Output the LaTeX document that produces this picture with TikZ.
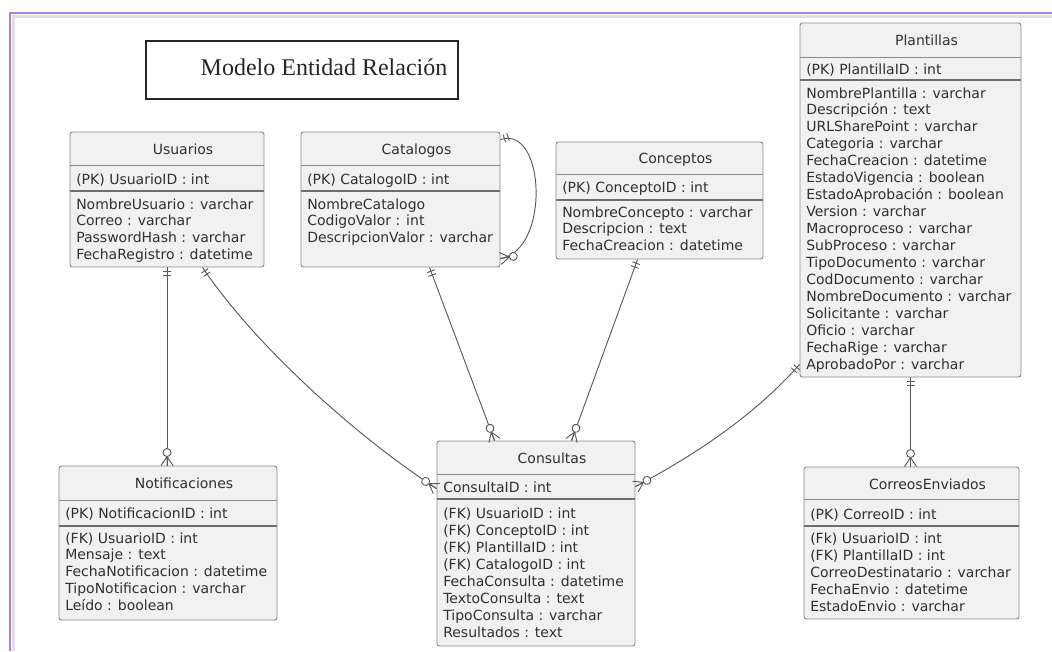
\documentclass[tikz,border=0pt]{standalone}
\usepackage{fontspec}
\setmainfont{DejaVu Sans}
\newfontfamily\titlefont{Liberation Serif}
\usetikzlibrary{calc,fit}
\definecolor{boxfill}{HTML}{F1F1F1}
\definecolor{boxline}{HTML}{8A8A8A}
\definecolor{connline}{HTML}{5A5A5A}
\definecolor{txt}{HTML}{303030}
\definecolor{frameviolet}{RGB}{172,128,222}
\newcommand\tblrows[5]{%
  \foreach \t [count=\i] in {#5}{\node[attr] (#1\i) at (#2,{-(#3+(\i-1)*#4)}) {\t};}}
\tikzset{
  tbl/.style={draw=boxline, line width=0.7pt, fill=boxfill, rounded corners=1.9pt, inner sep=0pt},
  sep/.style={draw=boxline, line width=0.7pt},
  sepd/.style={draw=boxline!80!black, line width=1.3pt},
  attr/.style={anchor=base west, inner sep=0pt, text=txt, font=\fontsize{10.5}{12.6}\selectfont},
  hdr/.style={anchor=base, inner sep=0pt, text=txt, font=\fontsize{10.5}{12.6}\selectfont},
  conn/.style={draw=connline, line width=0.7pt},
  pics/zeromany/.style={code={
    \draw[conn] (9,0) -- (0,6) (9,0) -- (0,-6) (9,0) -- (0,0);
    \draw[conn, fill=white] (13,0) circle[radius=3pt];}},
  pics/exactlyone/.style={code={
    \draw[conn] (4,-4) -- (4,4) (8,-4) -- (8,4);}}
}
\begin{document}
\begin{tikzpicture}[x=0.75pt,y=0.75pt]
\useasboundingbox (0,0) rectangle (1052,-651);
\fill[white] (0,0) rectangle (1052,-651);
% frame
\draw[black!12, line width=1.6pt] (13.5,-651) -- (13.5,-16.5) -- (1052,-16.5);
\draw[frameviolet, line width=1.6pt] (10,-651) -- (10,-13) -- (1052,-13);

% title
\node[draw=black!85, line width=1pt, fit={(146,-41) (458,-99)}, inner sep=0pt] (title) {};
\node[anchor=base, inner sep=0pt, text=black!85, font=\titlefont\fontsize{18}{20}\selectfont] (titletext) at (324,-75) {Modelo Entidad Relación};

% Usuarios
\node[tbl, fit={(70,-132) (264,-267)}] (usu) {};
\draw[sep] (70,-165) -- (264,-165);
\draw[sepd] (70,-191) -- (264,-191);
\node[hdr] (usuh) at (183,-154) {Usuarios};
\node[attr] (usupk) at (76,-184) {(PK) UsuarioID : int};
\tblrows{usua}{76}{209}{16.8}{NombreUsuario : varchar, Correo : varchar, PasswordHash : varchar, FechaRegistro : datetime}

% Catalogos
\node[tbl, fit={(301,-132) (500,-267)}] (cat) {};
\draw[sep] (301,-165) -- (500,-165);
\draw[sepd] (301,-191) -- (500,-191);
\node[hdr] (cath) at (416.5,-154) {Catalogos};
\node[attr] (catpk) at (307,-184) {(PK) CatalogoID : int};
\tblrows{cata}{307}{209}{16.8}{NombreCatalogo, CodigoValor : int, DescripcionValor : varchar}

% Conceptos
\node[tbl, fit={(556,-142) (763,-259)}] (con) {};
\draw[sep] (556,-174) -- (763,-174);
\draw[sepd] (556,-200) -- (763,-200);
\node[hdr] (conh) at (675.5,-163) {Conceptos};
\node[attr] (conpk) at (562,-192) {(PK) ConceptoID : int};
\tblrows{cona}{562}{217}{16.8}{NombreConcepto : varchar, Descripcion : text, FechaCreacion : datetime}

% Plantillas
\node[tbl, fit={(800,-23) (1021,-377)}] (pla) {};
\draw[sep] (800,-57) -- (1021,-57);
\draw[sepd] (800,-80) -- (1021,-80);
\node[hdr] (plah) at (926.5,-45) {Plantillas};
\node[attr] (plapk) at (806,-74) {(PK) PlantillaID : int};
\tblrows{plaa}{806}{98}{16.94}{NombrePlantilla : varchar, Descripción : text, URLSharePoint : varchar, Categoria : varchar, FechaCreacion : datetime, EstadoVigencia : boolean, EstadoAprobación : boolean, Version : varchar, Macroproceso : varchar, SubProceso : varchar, TipoDocumento : varchar, CodDocumento : varchar, NombreDocumento : varchar, Solicitante : varchar, Oficio : varchar, FechaRige : varchar, AprobadoPor : varchar}

% Notificaciones
\node[tbl, fit={(59,-466) (277,-620)}] (noti) {};
\draw[sep] (59,-500) -- (277,-500);
\draw[sepd] (59,-526) -- (277,-526);
\node[hdr] (notih) at (184,-488) {Notificaciones};
\node[attr] (notipk) at (65,-518) {(PK) NotificacionID : int};
\tblrows{notia}{65}{543}{16.8}{(FK) UsuarioID : int, Mensaje : text, FechaNotificacion : datetime, TipoNotificacion : varchar, Leído : boolean}

% Consultas
\node[tbl, fit={(437,-441) (635,-646)}] (cons) {};
\draw[sep] (437,-474) -- (635,-474);
\draw[sepd] (437,-499) -- (635,-499);
\node[hdr] (consh) at (552,-463) {Consultas};
\node[attr] (conspk) at (443,-492) {ConsultaID : int};
\tblrows{consa}{443}{518}{17}{(FK) UsuarioID : int, (FK) ConceptoID : int, (FK) PlantillaID : int, (FK) CatalogoID : int, FechaConsulta : datetime, TextoConsulta : text, TipoConsulta : varchar, Resultados : text}

% CorreosEnviados
\node[tbl, fit={(804,-467) (1019,-619)}] (corr) {};
\draw[sep] (804,-499) -- (1019,-499);
\draw[sepd] (804,-526) -- (1019,-526);
\node[hdr] (corrh) at (927.5,-489) {CorreosEnviados};
\node[attr] (corrpk) at (810,-519) {(PK) CorreoID : int};
\tblrows{corra}{810}{543}{17.1}{(Fk) UsuarioID : int, (FK) PlantillaID : int, CorreoDestinatario : varchar, FechaEnvio : datetime, EstadoEnvio : varchar}

% connector end points
\coordinate (e1a) at (usu.south);
\coordinate (e1b) at (usu.south |- noti.north);
\coordinate (e2a) at ($(usu.south west)+(133,0)$);
\coordinate (e2b) at ($(cons.north west)+(0,-48)$);
\coordinate (e3a) at ($(cat.south west)+(129,0)$);
\coordinate (e3b) at ($(cons.north west)+(58,0)$);
\coordinate (e4a) at ($(con.south west)+(82,0)$);
\coordinate (e4b) at ($(cons.north west)+(135,0)$);
\coordinate (e5a) at ($(pla.south west)+(0,13)$);
\coordinate (e5b) at ($(cons.north east)+(0,-46)$);
\coordinate (e6a) at (pla.south);
\coordinate (e6b) at (pla.south |- corr.north);
\coordinate (e7a) at ($(cat.north east)+(0,-8)$);
\coordinate (e7b) at ($(cat.south east)+(0,9)$);

% connectors
\draw[conn] (e1a) -- (e1b);
\draw[conn] (e2a) .. controls +(-56:95) and +(147:95) .. (e2b);
\draw[conn] (e3a) -- (e3b);
\draw[conn] (e4a) -- (e4b);
\draw[conn] (e5a) .. controls +(-131.5:60) and +(28:80) .. (e5b);
\draw[conn] (e6a) -- (e6b);
\draw[conn] (e7a) .. controls +(45,15) and +(50,8) .. (e7b);

% cardinality marks
\pic[rotate=-90] at (e1a) {exactlyone};
\pic[rotate=90] at (e1b) {zeromany};
\pic[rotate=-56] at (e2a) {exactlyone};
\pic[rotate=147] at (e2b) {zeromany};
\pic[rotate=-69.5] at (e3a) {exactlyone};
\pic[rotate=110.5] at (e3b) {zeromany};
\pic[rotate=-110] at (e4a) {exactlyone};
\pic[rotate=70] at (e4b) {zeromany};
\pic[rotate=228.5] at (e5a) {exactlyone};
\pic[rotate=28] at (e5b) {zeromany};
\pic[rotate=-90] at (e6a) {exactlyone};
\pic[rotate=90] at (e6b) {zeromany};
\pic[rotate=18] at (e7a) {exactlyone};
\pic[rotate=9] at (e7b) {zeromany};
\end{tikzpicture}
\end{document}
